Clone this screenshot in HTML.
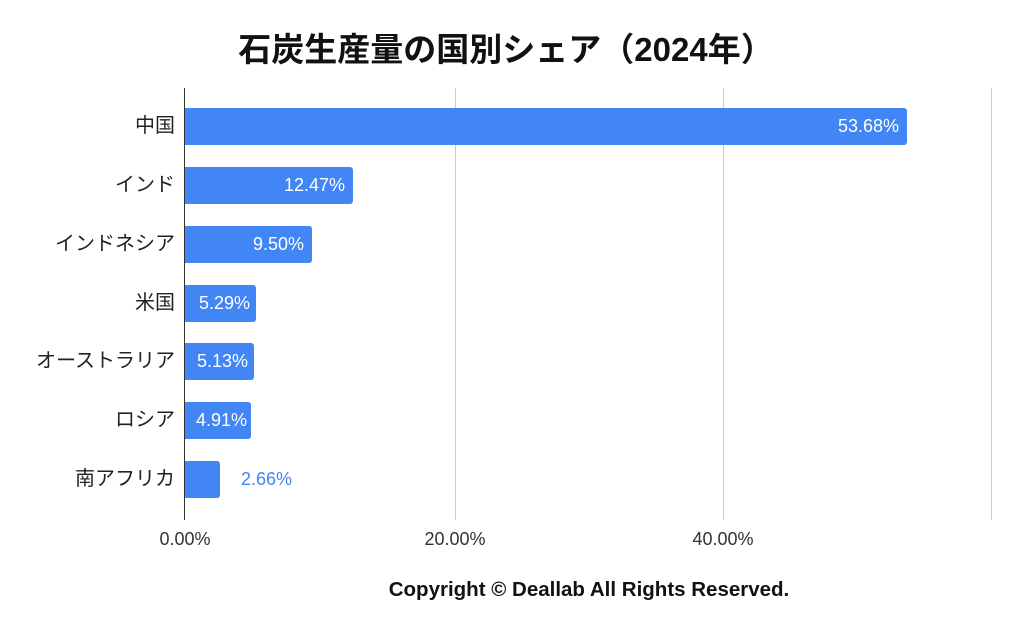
<!DOCTYPE html>
<html><head><meta charset="utf-8"><style>
body{margin:0;width:1024px;height:633px;background:#fff;position:relative;overflow:hidden;font-family:"Liberation Sans","Noto Sans CJK JP",sans-serif}
.t{position:absolute;white-space:nowrap}
.g{position:absolute;top:88px;height:432px;width:1px;background:#ccc}
.bar{position:absolute;left:185px;height:37px;background:#4285f4;border-radius:0 3px 3px 0}
.v{position:absolute;color:#fff;font-size:18px;line-height:37px;right:8px;top:0}
.c{position:absolute;right:849px;font-size:20px;color:#222;line-height:37px;text-align:right;white-space:nowrap}
.x{position:absolute;top:529px;font-size:18px;color:#333;transform:translateX(-50%)}
</style></head><body>
<div class="t" style="left:0;width:1012px;text-align:center;top:23px;font-size:33px;font-weight:bold;color:#111">石炭生産量の国別シェア（2024年）</div>
<div class="g" style="left:455px"></div>
<div class="g" style="left:723px"></div>
<div class="g" style="left:991px"></div>
<div class="g" style="left:184px;background:#333"></div>

<div class="c" style="top:108px">中国</div>
<div class="bar" style="top:108px;width:722px"><span class="v">53.68%</span></div>
<div class="c" style="top:167px">インド</div>
<div class="bar" style="top:167px;width:168px"><span class="v">12.47%</span></div>
<div class="c" style="top:226px">インドネシア</div>
<div class="bar" style="top:226px;width:127px"><span class="v">9.50%</span></div>
<div class="c" style="top:285px">米国</div>
<div class="bar" style="top:285px;width:71px"><span class="v" style="right:6px">5.29%</span></div>
<div class="c" style="top:343px">オーストラリア</div>
<div class="bar" style="top:343px;width:69px"><span class="v" style="right:6px">5.13%</span></div>
<div class="c" style="top:402px">ロシア</div>
<div class="bar" style="top:402px;width:66px"><span class="v" style="right:4px">4.91%</span></div>
<div class="c" style="top:461px">南アフリカ</div>
<div class="bar" style="top:461px;width:35px"></div>
<div class="t" style="left:241px;top:461px;line-height:37px;font-size:18px;color:#4285f4">2.66%</div>

<div class="x" style="left:185px">0.00%</div>
<div class="x" style="left:455px">20.00%</div>
<div class="x" style="left:723px">40.00%</div>
<div class="t" style="left:0;width:1178px;text-align:center;top:578px;font-size:20.5px;font-weight:bold;color:#111">Copyright © Deallab All Rights Reserved.</div>
</body></html>
